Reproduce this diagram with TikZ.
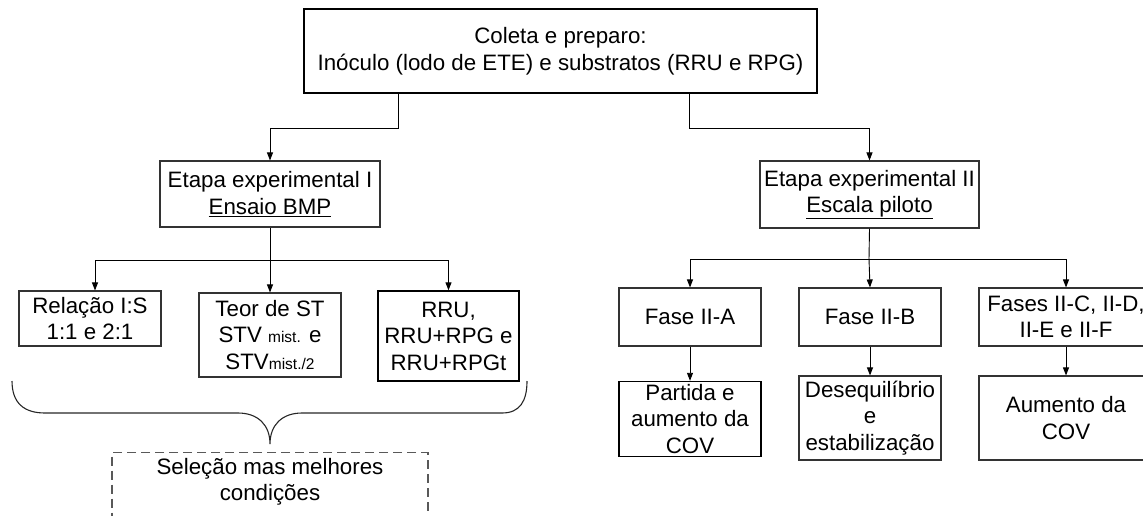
\documentclass[tikz,border=0pt]{standalone}
\usepackage{fontspec}
\setmainfont{Liberation Sans}
\usetikzlibrary{arrows.meta}
\begin{document}
\begin{tikzpicture}[x=1pt,y=-1pt,
  every node/.style={font=\fontsize{22.3}{26.5}\selectfont},
  box/.style={draw=black!80, line width=1.1pt, align=center, inner sep=0pt},
  boxk/.style={box, draw=black, line width=1.4pt},
  link/.style={draw=black, line width=0.9pt},
  arr/.style={link, -{Triangle[length=8pt,width=6pt]}},
  brace/.style={draw=black!85, line width=1.1pt},
  dbox/.style={draw=black!65, line width=1.1pt, dash pattern=on 9pt off 5pt}
]
\useasboundingbox (0,0) rectangle (1143,515);
\clip (0,0) rectangle (1143,515);
\newcommand{\sm}[1]{{\fontsize{15.5}{18}\selectfont #1}}

% nodes
\node[boxk, minimum width=513, minimum height=84] (top) at (560.5,51)
  {Coleta e preparo:\\Inóculo (lodo de ETE) e substratos (RRU e RPG)};
\node[box, minimum width=220, minimum height=66] (e1) at (270,194)
  {Etapa experimental I\\\underline{Ensaio BMP}};
\node[box, minimum width=219, minimum height=67] (e2) at (869.5,194.5)
  {Etapa experimental II\\\underline{Escala piloto}};
\node[box, minimum width=142, minimum height=55] (rel) at (90,318.5)
  {Relação I:S\\1:1 e 2:1};
\node[box, minimum width=142, minimum height=84] (teor) at (270,335)
  {Teor de ST\\STV \sm{mist.} e\\STV\sm{mist./2}};
\node[boxk, minimum width=141, minimum height=90] (rru) at (448.5,336)
  {RRU,\\RRU+RPG e\\RRU+RPGt};
\node[box, minimum width=142, minimum height=58] (fa) at (690,317) {Fase II-A};
\node[box, minimum width=142, minimum height=58] (fb) at (870,317) {Fase II-B};
\node[box, minimum width=174, minimum height=58] (fc) at (1066,317)
  {Fases II-C, II-D,\\II-E e II-F};
\node[boxk, minimum width=142, minimum height=75] (pa) at (690,419)
  {Partida e\\aumento da\\COV};
\node[box, minimum width=142, minimum height=84] (de) at (870,418)
  {Desequilíbrio\\e\\estabilização};
\node[box, minimum width=174, minimum height=84] (au) at (1066,418)
  {Aumento da\\COV};

% dashed selection box (open at the bottom)
\node[dbox, minimum width=316, minimum height=120, anchor=north] (selbox) at (270,452) {};
\node[align=center, inner sep=0pt] (sel) at (270,482) {Seleção mas melhores\\condições};

% connectors
\coordinate (j1) at (398,128);
\coordinate (j2) at (689,128);
\coordinate (j3) at (270,260);
\coordinate (j4) at (869,259);
\draw[arr] (top.south -| j1) -- (j1) -| (e1.north);
\draw[arr] (top.south -| j2) -- (j2) -| (e2.north);
\draw[link] (e1.south) -- (j3);
\draw[arr] (j3) -| ([xshift=5pt]rel.north);
\draw[arr] (j3) -- (teor.north);
\draw[arr] (j3) -| (rru.north);
\draw[link] (e2.south) -- (j4);
\draw[arr] (j4) -| (fa.north);
\draw[arr] (j4) -- (fb.north);
\draw[arr] (j4) -| (fc.north);
\draw[arr] (fa) -- (pa);
\draw[arr] (fb) -- (de);
\draw[arr] (fc) -- (au);

% brace
\draw[brace] (12,381) .. controls (12,403) and (24,413) .. (45,413) -- (238,413)
  .. controls (258,413) and (270,425) .. (270,444)
  .. controls (270,425) and (282,413) .. (302,413) -- (502,413)
  .. controls (520,413) and (527,401) .. (527,381);
\end{tikzpicture}
\end{document}
